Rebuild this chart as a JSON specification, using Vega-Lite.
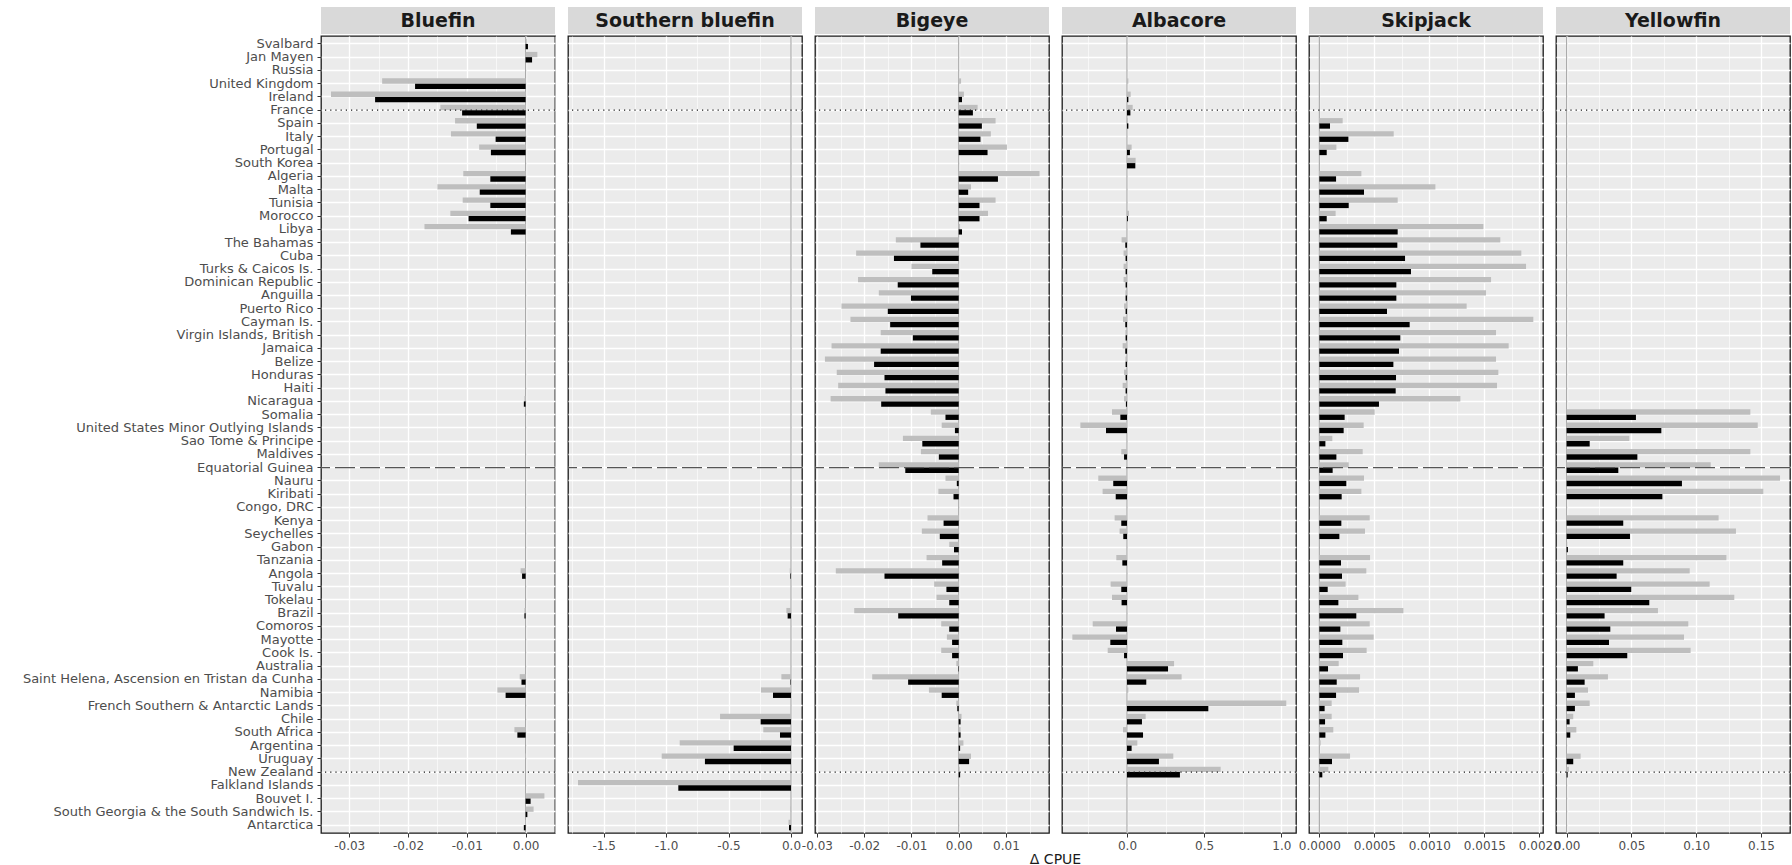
{
  "$schema": "https://vega.github.io/schema/vega-lite/v6.json",
  "background": "#FFFFFF",
  "padding": {"left": 21, "top": 7, "right": 0, "bottom": 0},
  "autosize": {"type": "pad"},
  "datasets": {
    "bluefin": [
      {"country": "Svalbard", "scenario": "high", "value": 0.0002}, {"country": "Svalbard", "scenario": "low", "value": 0.0004},
      {"country": "Jan Mayen", "scenario": "high", "value": 0.002}, {"country": "Jan Mayen", "scenario": "low", "value": 0.0011},
      {"country": "United Kingdom", "scenario": "high", "value": -0.0244}, {"country": "United Kingdom", "scenario": "low", "value": -0.0188},
      {"country": "Ireland", "scenario": "high", "value": -0.0331}, {"country": "Ireland", "scenario": "low", "value": -0.0256},
      {"country": "France", "scenario": "high", "value": -0.0145}, {"country": "France", "scenario": "low", "value": -0.0108},
      {"country": "Spain", "scenario": "high", "value": -0.012}, {"country": "Spain", "scenario": "low", "value": -0.0083},
      {"country": "Italy", "scenario": "high", "value": -0.0127}, {"country": "Italy", "scenario": "low", "value": -0.0051},
      {"country": "Portugal", "scenario": "high", "value": -0.0079}, {"country": "Portugal", "scenario": "low", "value": -0.0059},
      {"country": "Algeria", "scenario": "high", "value": -0.0106}, {"country": "Algeria", "scenario": "low", "value": -0.006},
      {"country": "Malta", "scenario": "high", "value": -0.015}, {"country": "Malta", "scenario": "low", "value": -0.0078},
      {"country": "Tunisia", "scenario": "high", "value": -0.0107}, {"country": "Tunisia", "scenario": "low", "value": -0.006},
      {"country": "Morocco", "scenario": "high", "value": -0.0128}, {"country": "Morocco", "scenario": "low", "value": -0.0097},
      {"country": "Libya", "scenario": "high", "value": -0.0172}, {"country": "Libya", "scenario": "low", "value": -0.0025},
      {"country": "Nicaragua", "scenario": "high", "value": -0.0002}, {"country": "Nicaragua", "scenario": "low", "value": -0.0003},
      {"country": "Angola", "scenario": "high", "value": -0.00085}, {"country": "Angola", "scenario": "low", "value": -0.0006},
      {"country": "Brazil", "scenario": "high", "value": -0.0002}, {"country": "Brazil", "scenario": "low", "value": -0.0002},
      {"country": "Saint Helena, Ascension en Tristan da Cunha", "scenario": "high", "value": -0.001}, {"country": "Saint Helena, Ascension en Tristan da Cunha", "scenario": "low", "value": -0.0007},
      {"country": "Namibia", "scenario": "high", "value": -0.0048}, {"country": "Namibia", "scenario": "low", "value": -0.0034},
      {"country": "South Africa", "scenario": "high", "value": -0.0019}, {"country": "South Africa", "scenario": "low", "value": -0.0014},
      {"country": "Uruguay", "scenario": "high", "value": -0.0001},
      {"country": "Bouvet I.", "scenario": "high", "value": 0.0032}, {"country": "Bouvet I.", "scenario": "low", "value": 0.00085},
      {"country": "South Georgia & the South Sandwich Is.", "scenario": "high", "value": 0.00136}, {"country": "South Georgia & the South Sandwich Is.", "scenario": "low", "value": 0.0003},
      {"country": "Antarctica", "scenario": "high", "value": -0.0001}, {"country": "Antarctica", "scenario": "low", "value": -0.0003}
    ],
    "southern": [
      {"country": "Angola", "scenario": "high", "value": -0.01}, {"country": "Angola", "scenario": "low", "value": -0.005},
      {"country": "Brazil", "scenario": "high", "value": -0.037}, {"country": "Brazil", "scenario": "low", "value": -0.027},
      {"country": "Saint Helena, Ascension en Tristan da Cunha", "scenario": "high", "value": -0.077}, {"country": "Saint Helena, Ascension en Tristan da Cunha", "scenario": "low", "value": -0.004},
      {"country": "Namibia", "scenario": "high", "value": -0.24}, {"country": "Namibia", "scenario": "low", "value": -0.144},
      {"country": "Chile", "scenario": "high", "value": -0.568}, {"country": "Chile", "scenario": "low", "value": -0.243},
      {"country": "South Africa", "scenario": "high", "value": -0.222}, {"country": "South Africa", "scenario": "low", "value": -0.088},
      {"country": "Argentina", "scenario": "high", "value": -0.891}, {"country": "Argentina", "scenario": "low", "value": -0.459},
      {"country": "Uruguay", "scenario": "high", "value": -1.035}, {"country": "Uruguay", "scenario": "low", "value": -0.689},
      {"country": "Falkland Islands", "scenario": "high", "value": -1.705}, {"country": "Falkland Islands", "scenario": "low", "value": -0.902},
      {"country": "South Georgia & the South Sandwich Is.", "scenario": "high", "value": -0.005},
      {"country": "Antarctica", "scenario": "high", "value": -0.02}, {"country": "Antarctica", "scenario": "low", "value": -0.016}
    ],
    "bigeye": [
      {"country": "United Kingdom", "scenario": "high", "value": 0.0005},
      {"country": "Ireland", "scenario": "high", "value": 0.0011}, {"country": "Ireland", "scenario": "low", "value": 0.0007},
      {"country": "France", "scenario": "high", "value": 0.004}, {"country": "France", "scenario": "low", "value": 0.003},
      {"country": "Spain", "scenario": "high", "value": 0.0078}, {"country": "Spain", "scenario": "low", "value": 0.0049},
      {"country": "Italy", "scenario": "high", "value": 0.0068}, {"country": "Italy", "scenario": "low", "value": 0.0046},
      {"country": "Portugal", "scenario": "high", "value": 0.0102}, {"country": "Portugal", "scenario": "low", "value": 0.0061},
      {"country": "Algeria", "scenario": "high", "value": 0.0171}, {"country": "Algeria", "scenario": "low", "value": 0.0083},
      {"country": "Malta", "scenario": "high", "value": 0.0026}, {"country": "Malta", "scenario": "low", "value": 0.002},
      {"country": "Tunisia", "scenario": "high", "value": 0.0078}, {"country": "Tunisia", "scenario": "low", "value": 0.0044},
      {"country": "Morocco", "scenario": "high", "value": 0.0062}, {"country": "Morocco", "scenario": "low", "value": 0.0044},
      {"country": "Libya", "scenario": "high", "value": 0.0003}, {"country": "Libya", "scenario": "low", "value": 0.0007},
      {"country": "The Bahamas", "scenario": "high", "value": -0.0133}, {"country": "The Bahamas", "scenario": "low", "value": -0.0081},
      {"country": "Cuba", "scenario": "high", "value": -0.0217}, {"country": "Cuba", "scenario": "low", "value": -0.0137},
      {"country": "Turks & Caicos Is.", "scenario": "high", "value": -0.01}, {"country": "Turks & Caicos Is.", "scenario": "low", "value": -0.0056},
      {"country": "Dominican Republic", "scenario": "high", "value": -0.0213}, {"country": "Dominican Republic", "scenario": "low", "value": -0.0129},
      {"country": "Anguilla", "scenario": "high", "value": -0.0169}, {"country": "Anguilla", "scenario": "low", "value": -0.0101},
      {"country": "Puerto Rico", "scenario": "high", "value": -0.0248}, {"country": "Puerto Rico", "scenario": "low", "value": -0.015},
      {"country": "Cayman Is.", "scenario": "high", "value": -0.0229}, {"country": "Cayman Is.", "scenario": "low", "value": -0.0145},
      {"country": "Virgin Islands, British", "scenario": "high", "value": -0.0165}, {"country": "Virgin Islands, British", "scenario": "low", "value": -0.0097},
      {"country": "Jamaica", "scenario": "high", "value": -0.0269}, {"country": "Jamaica", "scenario": "low", "value": -0.0165},
      {"country": "Belize", "scenario": "high", "value": -0.0283}, {"country": "Belize", "scenario": "low", "value": -0.0179},
      {"country": "Honduras", "scenario": "high", "value": -0.0258}, {"country": "Honduras", "scenario": "low", "value": -0.0157},
      {"country": "Haiti", "scenario": "high", "value": -0.0255}, {"country": "Haiti", "scenario": "low", "value": -0.0155},
      {"country": "Nicaragua", "scenario": "high", "value": -0.0271}, {"country": "Nicaragua", "scenario": "low", "value": -0.0164},
      {"country": "Somalia", "scenario": "high", "value": -0.0059}, {"country": "Somalia", "scenario": "low", "value": -0.0028},
      {"country": "United States Minor Outlying Islands", "scenario": "high", "value": -0.0036}, {"country": "United States Minor Outlying Islands", "scenario": "low", "value": -0.0008},
      {"country": "Sao Tome & Principe", "scenario": "high", "value": -0.0118}, {"country": "Sao Tome & Principe", "scenario": "low", "value": -0.0077},
      {"country": "Maldives", "scenario": "high", "value": -0.008}, {"country": "Maldives", "scenario": "low", "value": -0.0042},
      {"country": "Equatorial Guinea", "scenario": "high", "value": -0.0169}, {"country": "Equatorial Guinea", "scenario": "low", "value": -0.0113},
      {"country": "Nauru", "scenario": "high", "value": -0.0028}, {"country": "Nauru", "scenario": "low", "value": -0.0004},
      {"country": "Kiribati", "scenario": "high", "value": -0.0043}, {"country": "Kiribati", "scenario": "low", "value": -0.0011},
      {"country": "Kenya", "scenario": "high", "value": -0.0066}, {"country": "Kenya", "scenario": "low", "value": -0.0032},
      {"country": "Seychelles", "scenario": "high", "value": -0.0078}, {"country": "Seychelles", "scenario": "low", "value": -0.004},
      {"country": "Gabon", "scenario": "high", "value": -0.002}, {"country": "Gabon", "scenario": "low", "value": -0.001},
      {"country": "Tanzania", "scenario": "high", "value": -0.0068}, {"country": "Tanzania", "scenario": "low", "value": -0.0035},
      {"country": "Angola", "scenario": "high", "value": -0.026}, {"country": "Angola", "scenario": "low", "value": -0.0157},
      {"country": "Tuvalu", "scenario": "high", "value": -0.0052}, {"country": "Tuvalu", "scenario": "low", "value": -0.0026},
      {"country": "Tokelau", "scenario": "high", "value": -0.0047}, {"country": "Tokelau", "scenario": "low", "value": -0.002},
      {"country": "Brazil", "scenario": "high", "value": -0.0221}, {"country": "Brazil", "scenario": "low", "value": -0.0128},
      {"country": "Comoros", "scenario": "high", "value": -0.0037}, {"country": "Comoros", "scenario": "low", "value": -0.002},
      {"country": "Mayotte", "scenario": "high", "value": -0.0025}, {"country": "Mayotte", "scenario": "low", "value": -0.0014},
      {"country": "Cook Is.", "scenario": "high", "value": -0.0037}, {"country": "Cook Is.", "scenario": "low", "value": -0.0014},
      {"country": "Australia", "scenario": "high", "value": -0.0005}, {"country": "Australia", "scenario": "low", "value": -0.0001},
      {"country": "Saint Helena, Ascension en Tristan da Cunha", "scenario": "high", "value": -0.0183}, {"country": "Saint Helena, Ascension en Tristan da Cunha", "scenario": "low", "value": -0.0107},
      {"country": "Namibia", "scenario": "high", "value": -0.0063}, {"country": "Namibia", "scenario": "low", "value": -0.0036},
      {"country": "French Southern & Antarctic Lands", "scenario": "high", "value": -0.0005}, {"country": "French Southern & Antarctic Lands", "scenario": "low", "value": -0.0003},
      {"country": "Chile", "scenario": "high", "value": 0.0006}, {"country": "Chile", "scenario": "low", "value": 0.0004},
      {"country": "South Africa", "scenario": "high", "value": 0.0004}, {"country": "South Africa", "scenario": "low", "value": 0.0004},
      {"country": "Argentina", "scenario": "high", "value": 0.001}, {"country": "Argentina", "scenario": "low", "value": 0.0003},
      {"country": "Uruguay", "scenario": "high", "value": 0.0026}, {"country": "Uruguay", "scenario": "low", "value": 0.0022},
      {"country": "New Zealand", "scenario": "high", "value": 0.0002}, {"country": "New Zealand", "scenario": "low", "value": 0.0003}
    ],
    "albacore": [
      {"country": "United Kingdom", "scenario": "high", "value": 0.009},
      {"country": "Ireland", "scenario": "high", "value": 0.024}, {"country": "Ireland", "scenario": "low", "value": 0.009},
      {"country": "France", "scenario": "high", "value": 0.037}, {"country": "France", "scenario": "low", "value": 0.022},
      {"country": "Spain", "scenario": "high", "value": 0.005}, {"country": "Spain", "scenario": "low", "value": 0.009},
      {"country": "Portugal", "scenario": "high", "value": 0.03}, {"country": "Portugal", "scenario": "low", "value": 0.019},
      {"country": "South Korea", "scenario": "high", "value": 0.056}, {"country": "South Korea", "scenario": "low", "value": 0.054},
      {"country": "Morocco", "scenario": "high", "value": 0.013}, {"country": "Morocco", "scenario": "low", "value": 0.006},
      {"country": "The Bahamas", "scenario": "high", "value": -0.035}, {"country": "The Bahamas", "scenario": "low", "value": -0.011},
      {"country": "Cuba", "scenario": "high", "value": -0.022}, {"country": "Cuba", "scenario": "low", "value": -0.009},
      {"country": "Turks & Caicos Is.", "scenario": "high", "value": -0.022}, {"country": "Turks & Caicos Is.", "scenario": "low", "value": -0.009},
      {"country": "Dominican Republic", "scenario": "high", "value": -0.022}, {"country": "Dominican Republic", "scenario": "low", "value": -0.009},
      {"country": "Anguilla", "scenario": "high", "value": -0.01}, {"country": "Anguilla", "scenario": "low", "value": -0.009},
      {"country": "Puerto Rico", "scenario": "high", "value": -0.019}, {"country": "Puerto Rico", "scenario": "low", "value": -0.009},
      {"country": "Cayman Is.", "scenario": "high", "value": -0.026}, {"country": "Cayman Is.", "scenario": "low", "value": -0.011},
      {"country": "Virgin Islands, British", "scenario": "high", "value": -0.01}, {"country": "Virgin Islands, British", "scenario": "low", "value": -0.009},
      {"country": "Jamaica", "scenario": "high", "value": -0.028}, {"country": "Jamaica", "scenario": "low", "value": -0.011},
      {"country": "Belize", "scenario": "high", "value": -0.01}, {"country": "Belize", "scenario": "low", "value": -0.009},
      {"country": "Honduras", "scenario": "high", "value": -0.019}, {"country": "Honduras", "scenario": "low", "value": -0.009},
      {"country": "Haiti", "scenario": "high", "value": -0.028}, {"country": "Haiti", "scenario": "low", "value": -0.009},
      {"country": "Nicaragua", "scenario": "high", "value": -0.019}, {"country": "Nicaragua", "scenario": "low", "value": -0.007},
      {"country": "Somalia", "scenario": "high", "value": -0.097}, {"country": "Somalia", "scenario": "low", "value": -0.043},
      {"country": "United States Minor Outlying Islands", "scenario": "high", "value": -0.302}, {"country": "United States Minor Outlying Islands", "scenario": "low", "value": -0.136},
      {"country": "Maldives", "scenario": "high", "value": -0.037}, {"country": "Maldives", "scenario": "low", "value": -0.019},
      {"country": "Nauru", "scenario": "high", "value": -0.186}, {"country": "Nauru", "scenario": "low", "value": -0.089},
      {"country": "Kiribati", "scenario": "high", "value": -0.158}, {"country": "Kiribati", "scenario": "low", "value": -0.073},
      {"country": "Kenya", "scenario": "high", "value": -0.08}, {"country": "Kenya", "scenario": "low", "value": -0.037},
      {"country": "Seychelles", "scenario": "high", "value": -0.048}, {"country": "Seychelles", "scenario": "low", "value": -0.024},
      {"country": "Tanzania", "scenario": "high", "value": -0.069}, {"country": "Tanzania", "scenario": "low", "value": -0.03},
      {"country": "Tuvalu", "scenario": "high", "value": -0.106}, {"country": "Tuvalu", "scenario": "low", "value": -0.037},
      {"country": "Tokelau", "scenario": "high", "value": -0.097}, {"country": "Tokelau", "scenario": "low", "value": -0.035},
      {"country": "Comoros", "scenario": "high", "value": -0.222}, {"country": "Comoros", "scenario": "low", "value": -0.071},
      {"country": "Mayotte", "scenario": "high", "value": -0.354}, {"country": "Mayotte", "scenario": "low", "value": -0.108},
      {"country": "Cook Is.", "scenario": "high", "value": -0.125}, {"country": "Cook Is.", "scenario": "low", "value": -0.019},
      {"country": "Australia", "scenario": "high", "value": 0.305}, {"country": "Australia", "scenario": "low", "value": 0.266},
      {"country": "Saint Helena, Ascension en Tristan da Cunha", "scenario": "high", "value": 0.354}, {"country": "Saint Helena, Ascension en Tristan da Cunha", "scenario": "low", "value": 0.125},
      {"country": "Namibia", "scenario": "high", "value": 0.009},
      {"country": "French Southern & Antarctic Lands", "scenario": "high", "value": 1.032}, {"country": "French Southern & Antarctic Lands", "scenario": "low", "value": 0.527},
      {"country": "Chile", "scenario": "high", "value": 0.121}, {"country": "Chile", "scenario": "low", "value": 0.097},
      {"country": "South Africa", "scenario": "high", "value": -0.026}, {"country": "South Africa", "scenario": "low", "value": 0.104},
      {"country": "Argentina", "scenario": "high", "value": 0.067}, {"country": "Argentina", "scenario": "low", "value": 0.03},
      {"country": "Uruguay", "scenario": "high", "value": 0.3}, {"country": "Uruguay", "scenario": "low", "value": 0.207},
      {"country": "New Zealand", "scenario": "high", "value": 0.607}, {"country": "New Zealand", "scenario": "low", "value": 0.343}
    ],
    "skipjack": [
      {"country": "Spain", "scenario": "high", "value": 0.000212}, {"country": "Spain", "scenario": "low", "value": 0.000097},
      {"country": "Italy", "scenario": "high", "value": 0.000676}, {"country": "Italy", "scenario": "low", "value": 0.000264},
      {"country": "Portugal", "scenario": "high", "value": 0.000155}, {"country": "Portugal", "scenario": "low", "value": 0.000067},
      {"country": "Algeria", "scenario": "high", "value": 0.000382}, {"country": "Algeria", "scenario": "low", "value": 0.000152},
      {"country": "Malta", "scenario": "high", "value": 0.001055}, {"country": "Malta", "scenario": "low", "value": 0.000406},
      {"country": "Tunisia", "scenario": "high", "value": 0.000712}, {"country": "Tunisia", "scenario": "low", "value": 0.000267},
      {"country": "Morocco", "scenario": "high", "value": 0.000148}, {"country": "Morocco", "scenario": "low", "value": 0.000067},
      {"country": "Libya", "scenario": "high", "value": 0.001491}, {"country": "Libya", "scenario": "low", "value": 0.000712},
      {"country": "The Bahamas", "scenario": "high", "value": 0.001645}, {"country": "The Bahamas", "scenario": "low", "value": 0.000709},
      {"country": "Cuba", "scenario": "high", "value": 0.001836}, {"country": "Cuba", "scenario": "low", "value": 0.000779},
      {"country": "Turks & Caicos Is.", "scenario": "high", "value": 0.001879}, {"country": "Turks & Caicos Is.", "scenario": "low", "value": 0.000833},
      {"country": "Dominican Republic", "scenario": "high", "value": 0.001561}, {"country": "Dominican Republic", "scenario": "low", "value": 0.0007},
      {"country": "Anguilla", "scenario": "high", "value": 0.001515}, {"country": "Anguilla", "scenario": "low", "value": 0.0007},
      {"country": "Puerto Rico", "scenario": "high", "value": 0.001339}, {"country": "Puerto Rico", "scenario": "low", "value": 0.000615},
      {"country": "Cayman Is.", "scenario": "high", "value": 0.001945}, {"country": "Cayman Is.", "scenario": "low", "value": 0.000821},
      {"country": "Virgin Islands, British", "scenario": "high", "value": 0.001606}, {"country": "Virgin Islands, British", "scenario": "low", "value": 0.000736},
      {"country": "Jamaica", "scenario": "high", "value": 0.001721}, {"country": "Jamaica", "scenario": "low", "value": 0.000724},
      {"country": "Belize", "scenario": "high", "value": 0.001606}, {"country": "Belize", "scenario": "low", "value": 0.000673},
      {"country": "Honduras", "scenario": "high", "value": 0.001627}, {"country": "Honduras", "scenario": "low", "value": 0.000697},
      {"country": "Haiti", "scenario": "high", "value": 0.001615}, {"country": "Haiti", "scenario": "low", "value": 0.000694},
      {"country": "Nicaragua", "scenario": "high", "value": 0.001282}, {"country": "Nicaragua", "scenario": "low", "value": 0.000542},
      {"country": "Somalia", "scenario": "high", "value": 0.000503}, {"country": "Somalia", "scenario": "low", "value": 0.00023},
      {"country": "United States Minor Outlying Islands", "scenario": "high", "value": 0.000403}, {"country": "United States Minor Outlying Islands", "scenario": "low", "value": 0.000221},
      {"country": "Sao Tome & Principe", "scenario": "high", "value": 0.000118}, {"country": "Sao Tome & Principe", "scenario": "low", "value": 0.000055},
      {"country": "Maldives", "scenario": "high", "value": 0.000394}, {"country": "Maldives", "scenario": "low", "value": 0.000155},
      {"country": "Equatorial Guinea", "scenario": "high", "value": 0.000267}, {"country": "Equatorial Guinea", "scenario": "low", "value": 0.000121},
      {"country": "Nauru", "scenario": "high", "value": 0.000406}, {"country": "Nauru", "scenario": "low", "value": 0.000245},
      {"country": "Kiribati", "scenario": "high", "value": 0.000382}, {"country": "Kiribati", "scenario": "low", "value": 0.000203},
      {"country": "Kenya", "scenario": "high", "value": 0.000458}, {"country": "Kenya", "scenario": "low", "value": 0.0002},
      {"country": "Seychelles", "scenario": "high", "value": 0.000415}, {"country": "Seychelles", "scenario": "low", "value": 0.000182},
      {"country": "Tanzania", "scenario": "high", "value": 0.000461}, {"country": "Tanzania", "scenario": "low", "value": 0.000197},
      {"country": "Angola", "scenario": "high", "value": 0.000427}, {"country": "Angola", "scenario": "low", "value": 0.000206},
      {"country": "Tuvalu", "scenario": "high", "value": 0.000239}, {"country": "Tuvalu", "scenario": "low", "value": 0.000076},
      {"country": "Tokelau", "scenario": "high", "value": 0.000355}, {"country": "Tokelau", "scenario": "low", "value": 0.000173},
      {"country": "Brazil", "scenario": "high", "value": 0.000764}, {"country": "Brazil", "scenario": "low", "value": 0.000336},
      {"country": "Comoros", "scenario": "high", "value": 0.000458}, {"country": "Comoros", "scenario": "low", "value": 0.000191},
      {"country": "Mayotte", "scenario": "high", "value": 0.000494}, {"country": "Mayotte", "scenario": "low", "value": 0.000209},
      {"country": "Cook Is.", "scenario": "high", "value": 0.00043}, {"country": "Cook Is.", "scenario": "low", "value": 0.000215},
      {"country": "Australia", "scenario": "high", "value": 0.000176}, {"country": "Australia", "scenario": "low", "value": 0.000079},
      {"country": "Saint Helena, Ascension en Tristan da Cunha", "scenario": "high", "value": 0.00037}, {"country": "Saint Helena, Ascension en Tristan da Cunha", "scenario": "low", "value": 0.000158},
      {"country": "Namibia", "scenario": "high", "value": 0.000361}, {"country": "Namibia", "scenario": "low", "value": 0.000152},
      {"country": "French Southern & Antarctic Lands", "scenario": "high", "value": 0.000112}, {"country": "French Southern & Antarctic Lands", "scenario": "low", "value": 0.000048},
      {"country": "Chile", "scenario": "high", "value": 0.000112}, {"country": "Chile", "scenario": "low", "value": 0.000052},
      {"country": "South Africa", "scenario": "high", "value": 0.000127}, {"country": "South Africa", "scenario": "low", "value": 0.000055},
      {"country": "Argentina", "scenario": "high", "value": 0.000012},
      {"country": "Uruguay", "scenario": "high", "value": 0.000279}, {"country": "Uruguay", "scenario": "low", "value": 0.000115},
      {"country": "New Zealand", "scenario": "high", "value": 0.000082}, {"country": "New Zealand", "scenario": "low", "value": 0.000027}
    ],
    "yellowfin": [
      {"country": "Somalia", "scenario": "high", "value": 0.1418}, {"country": "Somalia", "scenario": "low", "value": 0.0535},
      {"country": "United States Minor Outlying Islands", "scenario": "high", "value": 0.1475}, {"country": "United States Minor Outlying Islands", "scenario": "low", "value": 0.0731},
      {"country": "Sao Tome & Principe", "scenario": "high", "value": 0.0484}, {"country": "Sao Tome & Principe", "scenario": "low", "value": 0.0178},
      {"country": "Maldives", "scenario": "high", "value": 0.1418}, {"country": "Maldives", "scenario": "low", "value": 0.0546},
      {"country": "Equatorial Guinea", "scenario": "high", "value": 0.1112}, {"country": "Equatorial Guinea", "scenario": "low", "value": 0.0399},
      {"country": "Nauru", "scenario": "high", "value": 0.1647}, {"country": "Nauru", "scenario": "low", "value": 0.089},
      {"country": "Kiribati", "scenario": "high", "value": 0.1518}, {"country": "Kiribati", "scenario": "low", "value": 0.0739},
      {"country": "Kenya", "scenario": "high", "value": 0.1173}, {"country": "Kenya", "scenario": "low", "value": 0.0437},
      {"country": "Seychelles", "scenario": "high", "value": 0.1307}, {"country": "Seychelles", "scenario": "low", "value": 0.0489},
      {"country": "Gabon", "scenario": "high", "value": 0.0005}, {"country": "Gabon", "scenario": "low", "value": 0.001},
      {"country": "Tanzania", "scenario": "high", "value": 0.1233}, {"country": "Tanzania", "scenario": "low", "value": 0.0437},
      {"country": "Angola", "scenario": "high", "value": 0.095}, {"country": "Angola", "scenario": "low", "value": 0.0386},
      {"country": "Tuvalu", "scenario": "high", "value": 0.1104}, {"country": "Tuvalu", "scenario": "low", "value": 0.0499},
      {"country": "Tokelau", "scenario": "high", "value": 0.1294}, {"country": "Tokelau", "scenario": "low", "value": 0.0638},
      {"country": "Brazil", "scenario": "high", "value": 0.0705}, {"country": "Brazil", "scenario": "low", "value": 0.0293},
      {"country": "Comoros", "scenario": "high", "value": 0.0939}, {"country": "Comoros", "scenario": "low", "value": 0.0337},
      {"country": "Mayotte", "scenario": "high", "value": 0.0906}, {"country": "Mayotte", "scenario": "low", "value": 0.0327},
      {"country": "Cook Is.", "scenario": "high", "value": 0.0957}, {"country": "Cook Is.", "scenario": "low", "value": 0.0468},
      {"country": "Australia", "scenario": "high", "value": 0.0206}, {"country": "Australia", "scenario": "low", "value": 0.0087},
      {"country": "Saint Helena, Ascension en Tristan da Cunha", "scenario": "high", "value": 0.0319}, {"country": "Saint Helena, Ascension en Tristan da Cunha", "scenario": "low", "value": 0.0139},
      {"country": "Namibia", "scenario": "high", "value": 0.0165}, {"country": "Namibia", "scenario": "low", "value": 0.0064},
      {"country": "French Southern & Antarctic Lands", "scenario": "high", "value": 0.0178}, {"country": "French Southern & Antarctic Lands", "scenario": "low", "value": 0.0064},
      {"country": "Chile", "scenario": "high", "value": 0.0051}, {"country": "Chile", "scenario": "low", "value": 0.0023},
      {"country": "South Africa", "scenario": "high", "value": 0.0075}, {"country": "South Africa", "scenario": "low", "value": 0.0028},
      {"country": "Uruguay", "scenario": "high", "value": 0.0108}, {"country": "Uruguay", "scenario": "low", "value": 0.0051},
      {"country": "New Zealand", "scenario": "high", "value": 0.0018}, {"country": "New Zealand", "scenario": "low", "value": 0.0008}
    ],
    "dotted": [{"country": "France"}, {"country": "New Zealand"}],
    "dashed": [{"country": "Equatorial Guinea"}],
    "zero": [{"value": 0}]
  },
  "spacing": 0,
  "vconcat": [
    {
      "bounds": "flush", "spacing": 13,
      "hconcat": [
        {"width": 234, "height": 27, "view": {"fill": "#D9D9D9", "stroke": null}, "data": {"values": [{"species": "Bluefin"}]},
         "mark": {"type": "text", "fontWeight": "bold", "fontSize": 19, "color": "#1A1A1A"}, "encoding": {"text": {"field": "species", "type": "nominal"}}},
        {"width": 234, "height": 27, "view": {"fill": "#D9D9D9", "stroke": null}, "data": {"values": [{"species": "Southern bluefin"}]},
         "mark": {"type": "text", "fontWeight": "bold", "fontSize": 19, "color": "#1A1A1A"}, "encoding": {"text": {"field": "species", "type": "nominal"}}},
        {"width": 234, "height": 27, "view": {"fill": "#D9D9D9", "stroke": null}, "data": {"values": [{"species": "Bigeye"}]},
         "mark": {"type": "text", "fontWeight": "bold", "fontSize": 19, "color": "#1A1A1A"}, "encoding": {"text": {"field": "species", "type": "nominal"}}},
        {"width": 234, "height": 27, "view": {"fill": "#D9D9D9", "stroke": null}, "data": {"values": [{"species": "Albacore"}]},
         "mark": {"type": "text", "fontWeight": "bold", "fontSize": 19, "color": "#1A1A1A"}, "encoding": {"text": {"field": "species", "type": "nominal"}}},
        {"width": 234, "height": 27, "view": {"fill": "#D9D9D9", "stroke": null}, "data": {"values": [{"species": "Skipjack"}]},
         "mark": {"type": "text", "fontWeight": "bold", "fontSize": 19, "color": "#1A1A1A"}, "encoding": {"text": {"field": "species", "type": "nominal"}}},
        {"width": 234, "height": 27, "view": {"fill": "#D9D9D9", "stroke": null}, "data": {"values": [{"species": "Yellowfin"}]},
         "mark": {"type": "text", "fontWeight": "bold", "fontSize": 19, "color": "#1A1A1A"}, "encoding": {"text": {"field": "species", "type": "nominal"}}}
      ]
    },
    {
      "bounds": "flush", "spacing": 13,
      "hconcat": [
        {"width": 234, "height": 797,
         "layer": [
           {"data": {"name": "zero"}, "mark": {"type": "rule", "color": "#A6A6A6", "strokeWidth": 1.1},
            "encoding": {"x": {"field": "value", "type": "quantitative", "title": null}}},
           {"data": {"name": "bluefin"}, "mark": {"type": "bar"},
            "encoding": {
              "y": {"field": "country", "type": "nominal", "title": null,
                    "scale": {"domain": ["Svalbard","Jan Mayen","Russia","United Kingdom","Ireland","France","Spain","Italy","Portugal","South Korea","Algeria","Malta","Tunisia","Morocco","Libya","The Bahamas","Cuba","Turks & Caicos Is.","Dominican Republic","Anguilla","Puerto Rico","Cayman Is.","Virgin Islands, British","Jamaica","Belize","Honduras","Haiti","Nicaragua","Somalia","United States Minor Outlying Islands","Sao Tome & Principe","Maldives","Equatorial Guinea","Nauru","Kiribati","Congo, DRC","Kenya","Seychelles","Gabon","Tanzania","Angola","Tuvalu","Tokelau","Brazil","Comoros","Mayotte","Cook Is.","Australia","Saint Helena, Ascension en Tristan da Cunha","Namibia","French Southern & Antarctic Lands","Chile","South Africa","Argentina","Uruguay","New Zealand","Falkland Islands","Bouvet I.","South Georgia & the South Sandwich Is.","Antarctica"], "paddingInner": 0, "paddingOuter": 0.1},
                    "axis": {"labels": true, "ticks": true, "tickSize": 4, "labelPadding": 4, "labelLimit": 400, "labelFontSize": 13, "grid": true, "bandPosition": 0.5}},
              "yOffset": {"field": "scenario", "type": "nominal", "scale": {"domain": ["high", "low"], "paddingInner": 0, "paddingOuter": 0.25}},
              "x": {"field": "value", "type": "quantitative", "title": null,
                    "scale": {"domain": [-0.0348, 0.005], "nice": false, "zero": true},
                    "axis": {"values": [-0.03, -0.025, -0.02, -0.015, -0.01, -0.005, 0, 0.005],
                             "labelExpr": "abs(datum.value*100-round(datum.value*100))<1e-6 ? replace(format(datum.value, '.2f'), '\u2212', '-') : ''",
                             "gridWidth": {"condition": {"test": "abs(datum.value*100-round(datum.value*100))<1e-6", "value": 1.3}, "value": 0.6},
                             "tickOpacity": {"condition": {"test": "abs(datum.value*100-round(datum.value*100))<1e-6", "value": 1}, "value": 0}}},
              "color": {"field": "scenario", "type": "nominal", "scale": {"domain": ["high", "low"], "range": ["#BEBEBE", "#000000"]}, "legend": null}
            }},
           {"data": {"name": "dotted"}, "mark": {"type": "rule", "color": "#1A1A1A", "strokeWidth": 1.2, "strokeDash": [1.2, 4]},
            "encoding": {"y": {"field": "country", "type": "nominal", "bandPosition": 0.5, "title": null}}},
           {"data": {"name": "dashed"}, "mark": {"type": "rule", "color": "#555555", "strokeWidth": 1.2, "strokeDash": [20, 5]},
            "encoding": {"y": {"field": "country", "type": "nominal", "bandPosition": 0.5, "title": null}}}
         ]},
        {"width": 234, "height": 797,
         "layer": [
           {"data": {"name": "zero"}, "mark": {"type": "rule", "color": "#A6A6A6", "strokeWidth": 1.1},
            "encoding": {"x": {"field": "value", "type": "quantitative", "title": null}}},
           {"data": {"name": "southern"}, "mark": {"type": "bar"},
            "encoding": {
              "y": {"field": "country", "type": "nominal", "title": null,
                    "scale": {"domain": ["Svalbard","Jan Mayen","Russia","United Kingdom","Ireland","France","Spain","Italy","Portugal","South Korea","Algeria","Malta","Tunisia","Morocco","Libya","The Bahamas","Cuba","Turks & Caicos Is.","Dominican Republic","Anguilla","Puerto Rico","Cayman Is.","Virgin Islands, British","Jamaica","Belize","Honduras","Haiti","Nicaragua","Somalia","United States Minor Outlying Islands","Sao Tome & Principe","Maldives","Equatorial Guinea","Nauru","Kiribati","Congo, DRC","Kenya","Seychelles","Gabon","Tanzania","Angola","Tuvalu","Tokelau","Brazil","Comoros","Mayotte","Cook Is.","Australia","Saint Helena, Ascension en Tristan da Cunha","Namibia","French Southern & Antarctic Lands","Chile","South Africa","Argentina","Uruguay","New Zealand","Falkland Islands","Bouvet I.","South Georgia & the South Sandwich Is.","Antarctica"], "paddingInner": 0, "paddingOuter": 0.1},
                    "axis": {"labels": false, "ticks": false, "grid": true, "bandPosition": 0.5}},
              "yOffset": {"field": "scenario", "type": "nominal", "scale": {"domain": ["high", "low"], "paddingInner": 0, "paddingOuter": 0.25}},
              "x": {"field": "value", "type": "quantitative", "title": null,
                    "scale": {"domain": [-1.785, 0.088], "nice": false, "zero": true},
                    "axis": {"values": [-1.75, -1.5, -1.25, -1, -0.75, -0.5, -0.25, 0],
                             "labelExpr": "abs(datum.value*2-round(datum.value*2))<1e-6 ? replace(format(datum.value, '.1f'), '\u2212', '-') : ''",
                             "gridWidth": {"condition": {"test": "abs(datum.value*2-round(datum.value*2))<1e-6", "value": 1.3}, "value": 0.6},
                             "tickOpacity": {"condition": {"test": "abs(datum.value*2-round(datum.value*2))<1e-6", "value": 1}, "value": 0}}},
              "color": {"field": "scenario", "type": "nominal", "scale": {"domain": ["high", "low"], "range": ["#BEBEBE", "#000000"]}, "legend": null}
            }},
           {"data": {"name": "dotted"}, "mark": {"type": "rule", "color": "#1A1A1A", "strokeWidth": 1.2, "strokeDash": [1.2, 4]},
            "encoding": {"y": {"field": "country", "type": "nominal", "bandPosition": 0.5, "title": null}}},
           {"data": {"name": "dashed"}, "mark": {"type": "rule", "color": "#555555", "strokeWidth": 1.2, "strokeDash": [20, 5]},
            "encoding": {"y": {"field": "country", "type": "nominal", "bandPosition": 0.5, "title": null}}}
         ]},
        {"width": 234, "height": 797,
         "layer": [
           {"data": {"name": "zero"}, "mark": {"type": "rule", "color": "#A6A6A6", "strokeWidth": 1.1},
            "encoding": {"x": {"field": "value", "type": "quantitative", "title": null}}},
           {"data": {"name": "bigeye"}, "mark": {"type": "bar"},
            "encoding": {
              "y": {"field": "country", "type": "nominal", "title": null,
                    "scale": {"domain": ["Svalbard","Jan Mayen","Russia","United Kingdom","Ireland","France","Spain","Italy","Portugal","South Korea","Algeria","Malta","Tunisia","Morocco","Libya","The Bahamas","Cuba","Turks & Caicos Is.","Dominican Republic","Anguilla","Puerto Rico","Cayman Is.","Virgin Islands, British","Jamaica","Belize","Honduras","Haiti","Nicaragua","Somalia","United States Minor Outlying Islands","Sao Tome & Principe","Maldives","Equatorial Guinea","Nauru","Kiribati","Congo, DRC","Kenya","Seychelles","Gabon","Tanzania","Angola","Tuvalu","Tokelau","Brazil","Comoros","Mayotte","Cook Is.","Australia","Saint Helena, Ascension en Tristan da Cunha","Namibia","French Southern & Antarctic Lands","Chile","South Africa","Argentina","Uruguay","New Zealand","Falkland Islands","Bouvet I.","South Georgia & the South Sandwich Is.","Antarctica"], "paddingInner": 0, "paddingOuter": 0.1},
                    "axis": {"labels": false, "ticks": false, "grid": true, "bandPosition": 0.5}},
              "yOffset": {"field": "scenario", "type": "nominal", "scale": {"domain": ["high", "low"], "paddingInner": 0, "paddingOuter": 0.25}},
              "x": {"field": "value", "type": "quantitative", "title": null,
                    "scale": {"domain": [-0.0304, 0.0191], "nice": false, "zero": true},
                    "axis": {"values": [-0.03, -0.025, -0.02, -0.015, -0.01, -0.005, 0, 0.005, 0.01, 0.015],
                             "labelExpr": "abs(datum.value*100-round(datum.value*100))<1e-6 ? replace(format(datum.value, '.2f'), '\u2212', '-') : ''",
                             "gridWidth": {"condition": {"test": "abs(datum.value*100-round(datum.value*100))<1e-6", "value": 1.3}, "value": 0.6},
                             "tickOpacity": {"condition": {"test": "abs(datum.value*100-round(datum.value*100))<1e-6", "value": 1}, "value": 0}}},
              "color": {"field": "scenario", "type": "nominal", "scale": {"domain": ["high", "low"], "range": ["#BEBEBE", "#000000"]}, "legend": null}
            }},
           {"data": {"name": "dotted"}, "mark": {"type": "rule", "color": "#1A1A1A", "strokeWidth": 1.2, "strokeDash": [1.2, 4]},
            "encoding": {"y": {"field": "country", "type": "nominal", "bandPosition": 0.5, "title": null}}},
           {"data": {"name": "dashed"}, "mark": {"type": "rule", "color": "#555555", "strokeWidth": 1.2, "strokeDash": [20, 5]},
            "encoding": {"y": {"field": "country", "type": "nominal", "bandPosition": 0.5, "title": null}}}
         ]},
        {"width": 234, "height": 797,
         "layer": [
           {"data": {"name": "zero"}, "mark": {"type": "rule", "color": "#A6A6A6", "strokeWidth": 1.1},
            "encoding": {"x": {"field": "value", "type": "quantitative", "title": null}}},
           {"data": {"name": "albacore"}, "mark": {"type": "bar"},
            "encoding": {
              "y": {"field": "country", "type": "nominal", "title": null,
                    "scale": {"domain": ["Svalbard","Jan Mayen","Russia","United Kingdom","Ireland","France","Spain","Italy","Portugal","South Korea","Algeria","Malta","Tunisia","Morocco","Libya","The Bahamas","Cuba","Turks & Caicos Is.","Dominican Republic","Anguilla","Puerto Rico","Cayman Is.","Virgin Islands, British","Jamaica","Belize","Honduras","Haiti","Nicaragua","Somalia","United States Minor Outlying Islands","Sao Tome & Principe","Maldives","Equatorial Guinea","Nauru","Kiribati","Congo, DRC","Kenya","Seychelles","Gabon","Tanzania","Angola","Tuvalu","Tokelau","Brazil","Comoros","Mayotte","Cook Is.","Australia","Saint Helena, Ascension en Tristan da Cunha","Namibia","French Southern & Antarctic Lands","Chile","South Africa","Argentina","Uruguay","New Zealand","Falkland Islands","Bouvet I.","South Georgia & the South Sandwich Is.","Antarctica"], "paddingInner": 0, "paddingOuter": 0.1},
                    "axis": {"labels": false, "ticks": false, "grid": true, "bandPosition": 0.5}},
              "yOffset": {"field": "scenario", "type": "nominal", "scale": {"domain": ["high", "low"], "paddingInner": 0, "paddingOuter": 0.25}},
              "x": {"field": "value", "type": "quantitative", "title": null,
                    "scale": {"domain": [-0.421, 1.095], "nice": false, "zero": true},
                    "axis": {"values": [-0.25, 0, 0.25, 0.5, 0.75, 1],
                             "labelExpr": "abs(datum.value*2-round(datum.value*2))<1e-6 ? replace(format(datum.value, '.1f'), '\u2212', '-') : ''",
                             "gridWidth": {"condition": {"test": "abs(datum.value*2-round(datum.value*2))<1e-6", "value": 1.3}, "value": 0.6},
                             "tickOpacity": {"condition": {"test": "abs(datum.value*2-round(datum.value*2))<1e-6", "value": 1}, "value": 0}}},
              "color": {"field": "scenario", "type": "nominal", "scale": {"domain": ["high", "low"], "range": ["#BEBEBE", "#000000"]}, "legend": null}
            }},
           {"data": {"name": "dotted"}, "mark": {"type": "rule", "color": "#1A1A1A", "strokeWidth": 1.2, "strokeDash": [1.2, 4]},
            "encoding": {"y": {"field": "country", "type": "nominal", "bandPosition": 0.5, "title": null}}},
           {"data": {"name": "dashed"}, "mark": {"type": "rule", "color": "#555555", "strokeWidth": 1.2, "strokeDash": [20, 5]},
            "encoding": {"y": {"field": "country", "type": "nominal", "bandPosition": 0.5, "title": null}}}
         ]},
        {"width": 234, "height": 797,
         "layer": [
           {"data": {"name": "zero"}, "mark": {"type": "rule", "color": "#A6A6A6", "strokeWidth": 1.1},
            "encoding": {"x": {"field": "value", "type": "quantitative", "title": null}}},
           {"data": {"name": "skipjack"}, "mark": {"type": "bar"},
            "encoding": {
              "y": {"field": "country", "type": "nominal", "title": null,
                    "scale": {"domain": ["Svalbard","Jan Mayen","Russia","United Kingdom","Ireland","France","Spain","Italy","Portugal","South Korea","Algeria","Malta","Tunisia","Morocco","Libya","The Bahamas","Cuba","Turks & Caicos Is.","Dominican Republic","Anguilla","Puerto Rico","Cayman Is.","Virgin Islands, British","Jamaica","Belize","Honduras","Haiti","Nicaragua","Somalia","United States Minor Outlying Islands","Sao Tome & Principe","Maldives","Equatorial Guinea","Nauru","Kiribati","Congo, DRC","Kenya","Seychelles","Gabon","Tanzania","Angola","Tuvalu","Tokelau","Brazil","Comoros","Mayotte","Cook Is.","Australia","Saint Helena, Ascension en Tristan da Cunha","Namibia","French Southern & Antarctic Lands","Chile","South Africa","Argentina","Uruguay","New Zealand","Falkland Islands","Bouvet I.","South Georgia & the South Sandwich Is.","Antarctica"], "paddingInner": 0, "paddingOuter": 0.1},
                    "axis": {"labels": false, "ticks": false, "grid": true, "bandPosition": 0.5}},
              "yOffset": {"field": "scenario", "type": "nominal", "scale": {"domain": ["high", "low"], "paddingInner": 0, "paddingOuter": 0.25}},
              "x": {"field": "value", "type": "quantitative", "title": null,
                    "scale": {"domain": [-0.000094, 0.002033], "nice": false, "zero": true},
                    "axis": {"values": [0, 0.00025, 0.0005, 0.00075, 0.001, 0.00125, 0.0015, 0.00175, 0.002],
                             "labelExpr": "abs(datum.value*2000-round(datum.value*2000))<1e-6 ? format(datum.value, '.4f') : ''",
                             "gridWidth": {"condition": {"test": "abs(datum.value*2000-round(datum.value*2000))<1e-6", "value": 1.3}, "value": 0.6},
                             "tickOpacity": {"condition": {"test": "abs(datum.value*2000-round(datum.value*2000))<1e-6", "value": 1}, "value": 0}}},
              "color": {"field": "scenario", "type": "nominal", "scale": {"domain": ["high", "low"], "range": ["#BEBEBE", "#000000"]}, "legend": null}
            }},
           {"data": {"name": "dotted"}, "mark": {"type": "rule", "color": "#1A1A1A", "strokeWidth": 1.2, "strokeDash": [1.2, 4]},
            "encoding": {"y": {"field": "country", "type": "nominal", "bandPosition": 0.5, "title": null}}},
           {"data": {"name": "dashed"}, "mark": {"type": "rule", "color": "#555555", "strokeWidth": 1.2, "strokeDash": [20, 5]},
            "encoding": {"y": {"field": "country", "type": "nominal", "bandPosition": 0.5, "title": null}}}
         ]},
        {"width": 234, "height": 797,
         "layer": [
           {"data": {"name": "zero"}, "mark": {"type": "rule", "color": "#A6A6A6", "strokeWidth": 1.1},
            "encoding": {"x": {"field": "value", "type": "quantitative", "title": null}}},
           {"data": {"name": "yellowfin"}, "mark": {"type": "bar"},
            "encoding": {
              "y": {"field": "country", "type": "nominal", "title": null,
                    "scale": {"domain": ["Svalbard","Jan Mayen","Russia","United Kingdom","Ireland","France","Spain","Italy","Portugal","South Korea","Algeria","Malta","Tunisia","Morocco","Libya","The Bahamas","Cuba","Turks & Caicos Is.","Dominican Republic","Anguilla","Puerto Rico","Cayman Is.","Virgin Islands, British","Jamaica","Belize","Honduras","Haiti","Nicaragua","Somalia","United States Minor Outlying Islands","Sao Tome & Principe","Maldives","Equatorial Guinea","Nauru","Kiribati","Congo, DRC","Kenya","Seychelles","Gabon","Tanzania","Angola","Tuvalu","Tokelau","Brazil","Comoros","Mayotte","Cook Is.","Australia","Saint Helena, Ascension en Tristan da Cunha","Namibia","French Southern & Antarctic Lands","Chile","South Africa","Argentina","Uruguay","New Zealand","Falkland Islands","Bouvet I.","South Georgia & the South Sandwich Is.","Antarctica"], "paddingInner": 0, "paddingOuter": 0.1},
                    "axis": {"labels": false, "ticks": false, "grid": true, "bandPosition": 0.5}},
              "yOffset": {"field": "scenario", "type": "nominal", "scale": {"domain": ["high", "low"], "paddingInner": 0, "paddingOuter": 0.25}},
              "x": {"field": "value", "type": "quantitative", "title": null,
                    "scale": {"domain": [-0.0082, 0.1724], "nice": false, "zero": true},
                    "axis": {"values": [0, 0.025, 0.05, 0.075, 0.1, 0.125, 0.15],
                             "labelExpr": "abs(datum.value*20-round(datum.value*20))<1e-6 ? format(datum.value, '.2f') : ''",
                             "gridWidth": {"condition": {"test": "abs(datum.value*20-round(datum.value*20))<1e-6", "value": 1.3}, "value": 0.6},
                             "tickOpacity": {"condition": {"test": "abs(datum.value*20-round(datum.value*20))<1e-6", "value": 1}, "value": 0}}},
              "color": {"field": "scenario", "type": "nominal", "scale": {"domain": ["high", "low"], "range": ["#BEBEBE", "#000000"]}, "legend": null}
            }},
           {"data": {"name": "dotted"}, "mark": {"type": "rule", "color": "#1A1A1A", "strokeWidth": 1.2, "strokeDash": [1.2, 4]},
            "encoding": {"y": {"field": "country", "type": "nominal", "bandPosition": 0.5, "title": null}}},
           {"data": {"name": "dashed"}, "mark": {"type": "rule", "color": "#555555", "strokeWidth": 1.2, "strokeDash": [20, 5]},
            "encoding": {"y": {"field": "country", "type": "nominal", "bandPosition": 0.5, "title": null}}}
         ]}
      ]
    },
    {"width": 1469, "height": 15, "view": {"fill": null, "stroke": null},
     "data": {"values": [{"label": "Δ CPUE"}]},
     "mark": {"type": "text", "fontSize": 14, "color": "#1A1A1A"},
     "encoding": {"text": {"field": "label", "type": "nominal"}}}
  ],
  "config": {
    "font": "DejaVu Sans",
    "view": {"fill": "#EBEBEB", "stroke": "#1A1A1A", "strokeWidth": 1.3},
    "axis": {"domain": false, "gridColor": "#FFFFFF", "gridWidth": 1.3, "labelColor": "#4D4D4D", "labelFont": "DejaVu Sans", "tickColor": "#333333", "tickWidth": 1},
    "axisX": {"labelFontSize": 12, "tickSize": 4, "labelPadding": 3, "labelFlush": false, "labelOverlap": false, "labelBound": false, "tickCount": 50},
    "axisY": {"labelOverlap": false}
  }
}
